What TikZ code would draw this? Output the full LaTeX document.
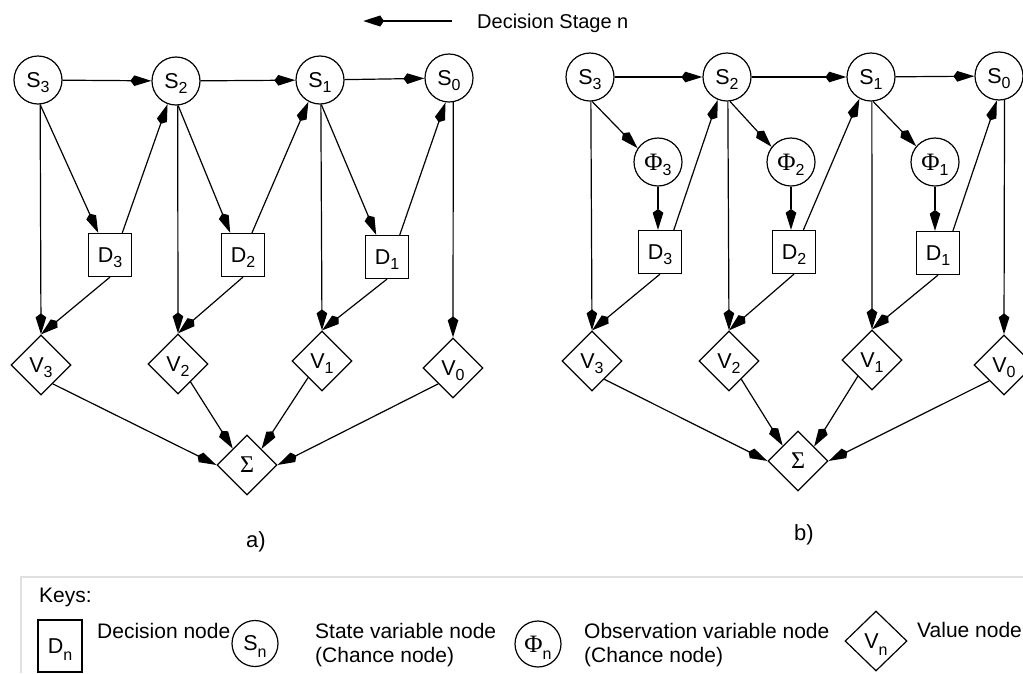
\documentclass[tikz,border=0pt]{standalone}
\usepackage{fontspec}
\setmainfont{Liberation Sans}
\newfontfamily\greekfont{Liberation Serif}
\usetikzlibrary{arrows.meta,shapes.geometric}

% label with a lowered subscript (diagram nodes and key symbols)
\newcommand\nlab[2]{#1\raisebox{-5pt}[0pt][0pt]{\fontsize{16}{16}\selectfont #2}}
\newcommand\klab[2]{#1\raisebox{-7pt}[0pt][0pt]{\fontsize{16}{16}\selectfont #2}}
\newcommand\gphi{{\greekfont\fontsize{25}{25}\selectfont Φ}}
\newcommand\gsum{{\greekfont\fontsize{24}{24}\selectfont Σ}}

\begin{document}
\begin{tikzpicture}[x=1pt,y=-1pt,
  base/.style={draw, line width=1.2pt, inner sep=0pt, font=\fontsize{21.5}{22}\selectfont},
  chance/.style={base, circle, minimum size=48pt},
  decision/.style={base, rectangle, minimum size=43pt},
  valuenode/.style={base, diamond, minimum width=60pt, minimum height=60pt},
  kitehead/.style={-{Stealth[length=17pt,width=10pt,inset=-4pt]}},
  link/.style={line width=1.2pt, kitehead},
  keytext/.style={font=\fontsize{21}{23.5}\selectfont, inner sep=0pt, anchor=base west},
  caption/.style={font=\fontsize{22}{22}\selectfont, inner sep=0pt},
]
\useasboundingbox (0,0) rectangle (1023,673);
\clip (0,0) rectangle (1023,673);

% ---------- direction of the decision stages ----------
\coordinate (dirtail) at (452,21);
\coordinate (dirhead) at (363,21);
\draw[line width=2pt, -{Stealth[length=17pt,width=10pt,inset=-4pt]}] (dirtail) -- (dirhead);
\node[anchor=base west, inner sep=0pt, font=\fontsize{20}{20}\selectfont] (stage) at (477,28.3) {Decision Stage n};

% ---------- network a) ----------
\node[chance] (aS3) at (38,80)  {\nlab{S}{3}};
\node[chance] (aS2) at (176,81) {\nlab{S}{2}};
\node[chance] (aS1) at (320,80) {\nlab{S}{1}};
\node[chance] (aS0) at (449,78) {\nlab{S}{0}};
\node[decision] (aD3) at (110,255) {\nlab{D}{3}};
\node[decision] (aD2) at (243,255) {\nlab{D}{2}};
\node[decision] (aD1) at (387,257) {\nlab{D}{1}};
\node[valuenode] (aV3) at (41,365)  {\nlab{V}{3}};
\node[valuenode] (aV2) at (178,364) {\nlab{V}{2}};
\node[valuenode] (aV1) at (322,361) {\nlab{V}{1}};
\node[valuenode] (aV0) at (453,368) {\nlab{V}{0}};
\node[valuenode] (aSum) at (247,465) {\gsum};

\draw[link] (aS3) -- (aS2);
\draw[link] (aS2) -- (aS1);
\draw[link] (aS1) -- (aS0);

\draw[link] (aS3.-85) -- (aD3.118);
\draw[link] (aD3.61) -- (aS2.250);
\draw[link] (aS2.-85) -- (aD2.120);
\draw[link] (aD2.68) -- (aS1.242);
\draw[link] (aS1.-87) -- (aD1.116);
\draw[link] (aD1.60) -- (aS0.262);

\draw[link] (aS3.-85) -- (aV3.north);
\draw[link] (aS2.-86) -- (aV2.north);
\draw[link] (aS1.-88) -- (aV1.north);
\draw[link] (aS0.-80) -- (aV0.north);

\draw[link] (aD3.south) -- (aV3.north);
\draw[link] (aD2.south) -- (aV2.north);
\draw[link] (aD1.south) -- (aV1.north);

\draw[link] (aV3.-58) -- (aSum.west);
\draw[link] (aV2.-55) -- (aSum.131);
\draw[link] (aV1.230) -- (aSum.48);
\draw[link] (aV0.227) -- (aSum.east);

\node[caption] (capa) at (256,542) {a)};

% ---------- network b) ----------
\node[chance] (bS3) at (590,77) {\nlab{S}{3}};
\node[chance] (bS2) at (727,77) {\nlab{S}{2}};
\node[chance] (bS1) at (871,77) {\nlab{S}{1}};
\node[chance] (bS0) at (999,76) {\nlab{S}{0}};
\node[chance] (bP3) at (658,162) {\nlab{\gphi}{3}};
\node[chance] (bP2) at (791,162) {\nlab{\gphi}{2}};
\node[chance] (bP1) at (935,162) {\nlab{\gphi}{1}};
\node[decision] (bD3) at (660,252) {\nlab{D}{3}};
\node[decision] (bD2) at (794,252) {\nlab{D}{2}};
\node[decision] (bD1) at (938,253) {\nlab{D}{1}};
\node[valuenode] (bV3) at (592,361)  {\nlab{V}{3}};
\node[valuenode] (bV2) at (729,361)  {\nlab{V}{2}};
\node[valuenode] (bV1) at (872,360)  {\nlab{V}{1}};
\node[valuenode] (bV0) at (1004,365) {\nlab{V}{0}};
\node[valuenode] (bSum) at (798,461) {\gsum};

\draw[link] (bS3) -- (bS2);
\draw[link] (bS2) -- (bS1);
\draw[link] (bS1) -- (bS0);

\draw[link] (bS3.-85) -- (bP3.146);
\draw[link] (bS2.-83) -- (bP2.142);
\draw[link] (bS1.-85) -- (bP1.140);

\draw[link] (bP3.south) -- (bP3.south |- bD3.north);
\draw[link] (bP2.south) -- (bP2.south |- bD2.north);
\draw[link] (bP1.south) -- (bP1.south |- bD1.north);

\draw[link] (bD3.58) -- (bS2.248);
\draw[link] (bD2.67) -- (bS1.242);
\draw[link] (bD1.56) -- (bS0.265);

\draw[link] (bS3.-88) -- (bV3.north);
\draw[link] (bS2.-88) -- (bV2.north);
\draw[link] (bS1.-88) -- (bV1.north);
\draw[link] (bS0.-77) -- (bV0.north);

\draw[link] (bD3.south) -- (bV3.north);
\draw[link] (bD2.south) -- (bV2.north);
\draw[link] (bD1.south) -- (bV1.north);

\draw[link] (bV3.-56) -- (bSum.west);
\draw[link] (bV2.-56) -- (bSum.135);
\draw[link] (bV1.229) -- (bSum.42);
\draw[link] (bV0.227) -- (bSum.east);

\node[caption] (capb) at (804,535) {b)};

% ---------- keys ----------
\coordinate (keyfoot) at (21,673);
\coordinate (keycorner) at (21,577);
\coordinate (keyend) at (1023,577);
\draw[black!12, line width=1.2pt] (keyfoot) -- (keycorner) -- (keyend);

\node[keytext] (keys) at (39,602) {Keys:};

\node[base, rectangle, minimum width=44pt, minimum height=52pt] (kD) at (60,646) {\klab{D}{n}};
\node[keytext] (kDt) at (97,638) {Decision node};

\node[base, circle, minimum size=46pt] (kS) at (255,643.5) {\klab{S}{n}};
\node[keytext, align=left] (kSt) at (315,662) {State variable node\\(Chance node)};

\node[base, circle, minimum size=46pt] (kP) at (538,644) {\klab{\gphi}{n}};
\node[keytext, align=left] (kPt) at (584,662) {Observation variable node\\(Chance node)};

\node[base, diamond, minimum width=62pt, minimum height=60pt] (kV) at (876,641) {\klab{V}{n}};
\node[keytext] (kVt) at (917,637) {Value node};
\end{tikzpicture}
\end{document}
